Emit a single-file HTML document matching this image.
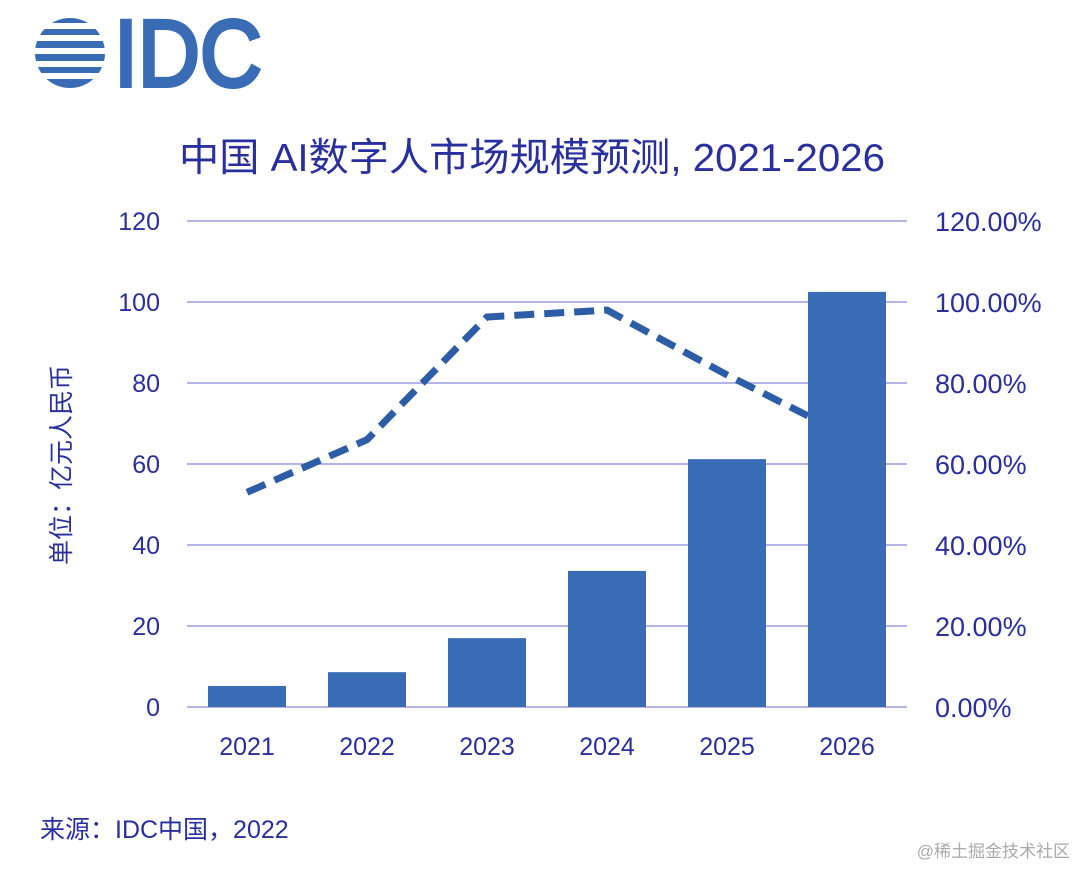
<!DOCTYPE html>
<html><head><meta charset="utf-8"><style>
body{margin:0;background:#fff;width:1080px;height:867px;overflow:hidden;font-family:"Liberation Sans","Noto Sans CJK SC",sans-serif}
</style></head><body>
<svg width="1080" height="867" xmlns="http://www.w3.org/2000/svg">
<g fill="#3a6cb5">
<clipPath id="gc"><circle cx="70" cy="53" r="35"/></clipPath>
<g clip-path="url(#gc)">
<rect x="30" y="17" width="80" height="6"/><rect x="30" y="29" width="80" height="6"/><rect x="30" y="41" width="80" height="7"/><rect x="30" y="54" width="80" height="7"/><rect x="30" y="67" width="80" height="6"/><rect x="30" y="79" width="80" height="9"/>
</g>
<text x="114" y="86" font-size="95" fill="#3a6cb5" stroke="#3a6cb5" stroke-width="4" textLength="148" lengthAdjust="spacingAndGlyphs">IDC</text>
</g>
<text x="532" y="171" text-anchor="middle" font-size="39" fill="#2a2f9e" textLength="706" lengthAdjust="spacingAndGlyphs">中国 AI数字人市场规模预测, 2021-2026</text>
<g id="grid"></g><g id="line"></g><g id="bars"></g><g id="labels"></g>
<text transform="translate(70,465) rotate(-90)" text-anchor="middle" font-size="25" fill="#2a2f9e">单位：亿元人民币</text>
<text x="40" y="838" font-size="25" fill="#2a2f9e">来源：IDC中国，2022</text>
<text x="1070" y="857" text-anchor="end" font-size="17" fill="#aaa">@稀土掘金技术社区</text>
</svg>
<script>
const categories=["2021","2022","2023","2024","2025","2026"];
const marketValues=[5.2,8.6,17,33.6,61.2,102.5];
const growthRates=[53,66,96.3,98,82,67];
const leftTicks=[0,20,40,60,80,100,120];
const rightTicks=["0.00%","20.00%","40.00%","60.00%","80.00%","100.00%","120.00%"];
const NS="http://www.w3.org/2000/svg";
const y0=707,yTop=221,xL=187,xR=907;
const yL=v=>y0-(v/120)*(y0-yTop);
const yR=p=>y0-(p/120)*(y0-yTop);
const step=(xR-xL)/categories.length;
const xC=i=>xL+step*(i+0.5);
function mk(t,a,p){const e=document.createElementNS(NS,t);for(const k in a)e.setAttribute(k,a[k]);document.getElementById(p).appendChild(e);return e;}
leftTicks.forEach((v,i)=>{
 const g=mk('line',{x1:xL,x2:xR,y1:yL(v),y2:yL(v),stroke:'#b4b4e6','stroke-width':2},'grid');
 
 
 const t=mk('text',{x:160,y:yL(v)+9,'text-anchor':'end','font-size':25,fill:'#2a2f9e'},'labels');t.textContent=v;
 
 
 const r=mk('text',{x:935,y:yL(v)+10,'font-size':27,fill:'#2a2f9e'},'labels');r.textContent=rightTicks[i];
 
 
});
const pl=mk('polyline',{points:growthRates.map((p,i)=>xC(i)+','+yR(p)).join(' '),fill:'none',stroke:'#2d5da6','stroke-width':7,'stroke-dasharray':'20 10'},'line');


marketValues.forEach((v,i)=>{
 const b=mk('rect',{x:xC(i)-39,y:yL(v),width:78,height:y0-yL(v),fill:'#3a6cb5'},'bars');
 
 
 const t=mk('text',{x:xC(i),y:755,'text-anchor':'middle','font-size':25,fill:'#2a2f9e'},'labels');t.textContent=categories[i];
 
 
});
</script>
</body></html>
